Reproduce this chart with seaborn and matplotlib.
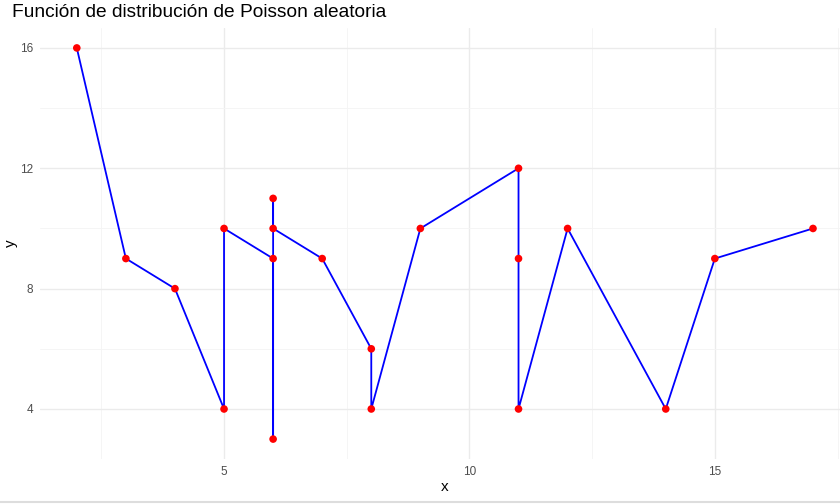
import matplotlib
matplotlib.use("Agg")
import matplotlib.pyplot as plt
import seaborn as sns
import pandas as pd
from matplotlib.lines import Line2D

x_vals = [2, 3, 4, 5, 5, 6, 6, 6, 6, 7, 8, 8, 9, 11, 11, 11, 12, 14, 15, 17]
y_vals = [16, 9, 8, 4, 10, 9, 3, 11, 10, 9, 6, 4, 10, 12, 9, 4, 10, 4, 9, 10]
x_ticks = [5, 10, 15]
y_ticks = [4, 8, 12, 16]
title = "Función de distribución de Poisson aleatoria"

df = pd.DataFrame({"x": x_vals, "y": y_vals})

sns.set_theme(style="white")
plt.rcParams['font.family'] = ['Liberation Sans', 'DejaVu Sans']

fig = plt.figure(figsize=(8.4, 5.04), dpi=100)
ax = fig.add_axes([0.0476, 0.090, 0.9524, 0.8537])

ax.plot(df["x"], df["y"], color="#0000FF", lw=1.3, zorder=3)
sns.scatterplot(data=df, x="x", y="y", ax=ax, color="#FF0000", s=30,
                edgecolor="none", zorder=4, legend=False)

ax.set_xlim(1.25, 17.55)
ax.set_ylim(2.35, 16.65)
ax.set_xticks(x_ticks)
ax.set_yticks(y_ticks)
ax.set_xticks([2.5, 7.5, 12.5, 17.5], minor=True)
ax.set_yticks([6, 10, 14], minor=True)
ax.grid(which="major", color="#EBEBEB", lw=1.0, zorder=0)
ax.grid(which="minor", color="#F4F4F4", lw=0.6, zorder=0)
for s in ax.spines.values():
    s.set_visible(False)
ax.tick_params(which="both", length=0, labelsize=8.5, labelcolor="#4D4D4D", pad=5)
ax.set_xlabel("x", fontsize=11, color="black")
ax.set_ylabel("y", fontsize=11, color="black")
ax.xaxis.set_label_coords(0.506, -0.05)
ax.yaxis.set_label_coords(-0.028, 0.5)
fig.text(0.0143, 0.975, title, fontsize=13.8, color="black", ha="left", va="center")

fig.add_artist(Line2D([0, 1], [0.004, 0.004], transform=fig.transFigure,
                      color="#DDDDDD", lw=1.5))

fig.savefig("out.png", dpi=100)
